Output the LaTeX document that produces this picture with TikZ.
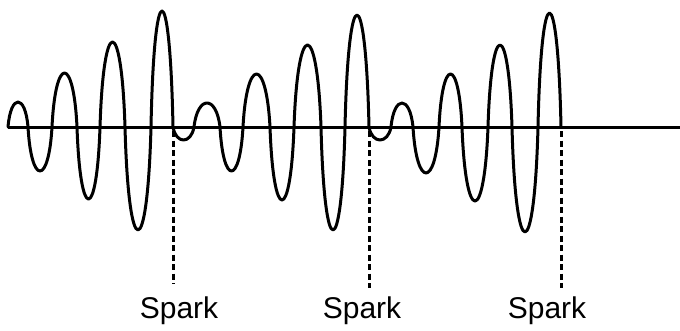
\documentclass[tikz,border=0pt]{standalone}
\usepackage{fontspec}
\setmainfont{Liberation Sans}
\begin{document}
\begin{tikzpicture}[x=1pt,y=-1pt,
  wave/.style={line width=3pt, line join=round, line cap=round},
  axisline/.style={line width=3pt},
  sparkline/.style={line width=3pt, dash pattern=on 6pt off 3.5pt},
  sparklabel/.style={anchor=base, font=\fontsize{30}{35}\selectfont, inner sep=0pt}]
\useasboundingbox (0,0) rectangle (680,330);
\draw[axisline] (8,127) -- (680,127);
\draw[wave] (8,127)
  foreach \a/\b/\e in {8/28/102, 28/52/171, 52/77/73, 77/100/199, 100/125/42,
    125/151/230, 151/173/11, 173/194/140, 194/220/103, 220/243/171,
    243/270/74, 270/294/200, 294/321/45, 321/345/230, 345/369/15,
    369/391/140, 391/413/103, 413/439/173, 439/462/74, 462/488/201,
    488/512/45, 512/538/232, 538/561/13}
  { .. controls ({\a+0.14*(\b-\a)},{127+(\e-127)/0.75})
      and ({\b-0.14*(\b-\a)},{127+(\e-127)/0.75}) .. (\b,127) };
\coordinate (s1) at (173,131);
\coordinate (s2) at (369,131);
\coordinate (s3) at (561,131);
\node[sparklabel] (t1) at (179,318) {Spark};
\node[sparklabel] (t2) at (362,318) {Spark};
\node[sparklabel] (t3) at (547,318) {Spark};
\draw[sparkline] (s1) -- (173,284);
\draw[sparkline] (s2) -- (369,288);
\draw[sparkline] (s3) -- (561,288);
\end{tikzpicture}
\end{document}
